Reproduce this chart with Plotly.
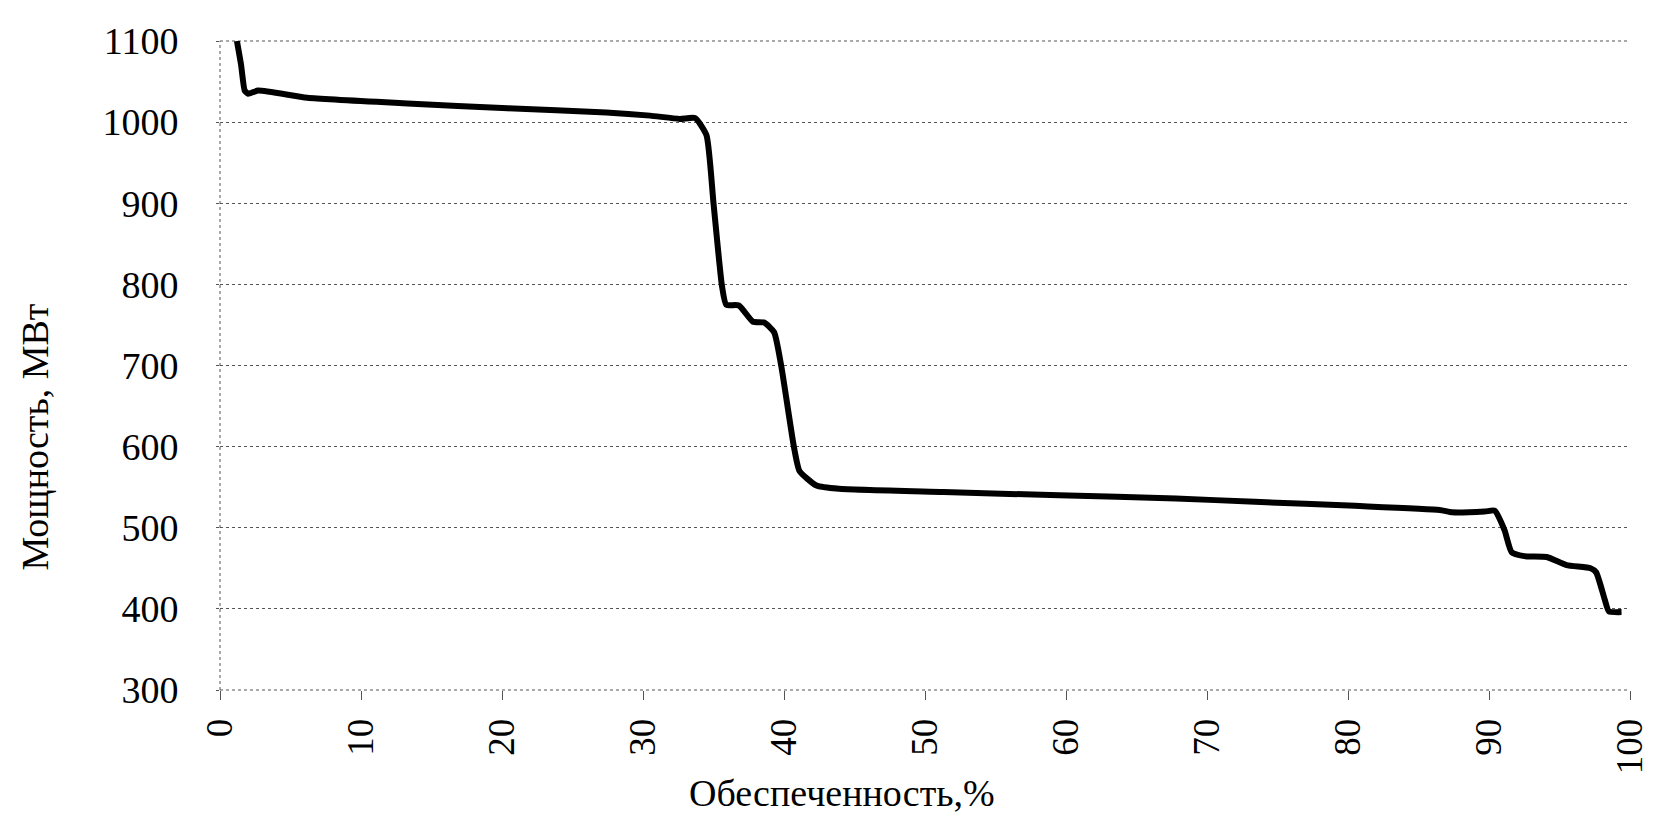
import plotly.graph_objects as go

# Кривая обеспеченности мощности
supply_pct = [
    1.2, 1.5, 1.75, 2.0, 2.7, 6.2, 13.3, 20.4, 27.4, 30.5, 32.6, 33.7,
    34.5, 35.0, 35.6, 35.9, 36.8, 37.8, 38.6, 39.3, 39.8, 40.7, 41.1,
    42.3, 43.9, 51.3, 59.5, 67.8, 73.4, 80.5, 86.5, 87.4, 89.7, 90.4,
    91.1, 91.6, 92.5, 94.1, 95.5, 97.2, 97.6, 98.2, 98.5, 99.4,
]
power_mw = [
    1100, 1070, 1039, 1035, 1039, 1030, 1023, 1017, 1012, 1008, 1004, 1005,
    984, 900, 798, 775, 774, 754, 753, 741, 700, 600, 570,
    552, 548, 544, 540, 536, 532, 527, 522, 519, 520, 521,
    497, 470, 465, 464, 454, 450, 445, 412, 397, 396,
]

x_ticks = list(range(0, 101, 10))
y_ticks = list(range(300, 1101, 100))

FONT = "Liberation Serif, Times New Roman, serif"
GRID = "#555555"

fig = go.Figure()

fig.add_trace(go.Scatter(
    x=supply_pct,
    y=power_mw,
    mode="lines",
    line=dict(color="black", width=6, shape="spline", smoothing=0.5),
    showlegend=False,
))

dotted = dict(color=GRID, width=1, dash="dot")

fig.update_layout(
    width=1654,
    height=815,
    margin=dict(l=212, r=28, t=25, b=133),
    paper_bgcolor="white",
    plot_bgcolor="white",
    font=dict(family=FONT, color="black"),
    xaxis=dict(
        range=[0, 100],
        tickvals=x_ticks,
        tickangle=-90,
        tickfont=dict(size=37, family=FONT),
        ticks="outside",
        ticklen=9,
        tickwidth=1,
        tickcolor=GRID,
        showgrid=False,
        zeroline=False,
        showline=False,
        ticklabelstandoff=4,
    ),
    yaxis=dict(
        range=[300, 1100],
        tickvals=y_ticks,
        tickfont=dict(size=38, family=FONT),
        ticks="outside",
        ticklen=3,
        tickwidth=1,
        tickcolor=GRID,
        showgrid=True,
        gridcolor=GRID,
        gridwidth=1,
        griddash="dot",
        zeroline=False,
        showline=False,
        ticklabelstandoff=30,
    ),
    shapes=[
        # пунктирная ось ординат и крайние линии сетки
        dict(type="line", xref="paper", yref="paper", x0=0, x1=0, y0=0, y1=1,
             line=dotted, layer="below"),
        dict(type="line", xref="paper", yref="paper", x0=0, x1=1, y0=0, y1=0,
             line=dotted, layer="below"),
        dict(type="line", xref="paper", yref="paper", x0=0, x1=1, y0=1, y1=1,
             line=dotted, layer="below"),
    ],
    annotations=[
        dict(text="Обеспеченность,%", xref="paper", yref="paper",
             x=0.441, y=-0.158, xanchor="center", yanchor="middle",
             showarrow=False, font=dict(size=38, family=FONT)),
        dict(text="Мощность, МВт", xref="paper", yref="paper",
             x=-0.1315, y=0.39, xanchor="center", yanchor="middle",
             textangle=-90, showarrow=False, font=dict(size=38, family=FONT)),
    ],
)

fig.write_html("out.html")
